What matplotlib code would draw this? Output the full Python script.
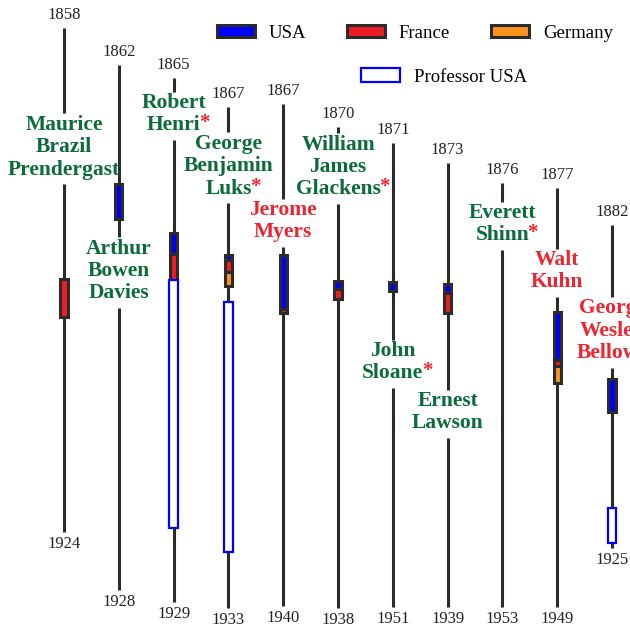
import matplotlib
matplotlib.use('Agg')
import matplotlib.pyplot as plt
from matplotlib.patches import Patch

plt.rcParams['font.family'] = ['Liberation Serif', 'DejaVu Serif']

# artists, left to right
names = ['Maurice\nBrazil\nPrendergast', 'Arthur\nBowen\nDavies', 'Robert\nHenri',
         'George\nBenjamin\nLuks', 'Jerome\nMyers', 'William\nJames\nGlackens',
         'John\nSloane', 'Ernest\nLawson', 'Everett\nShinn', 'Walt\nKuhn',
         'George\nWesley\nBellows']
starred = [False, False, True, True, False, True, True, False, True, False, False]
the_eight = [True, True, True, True, False, True, True, True, True, False, False]
born = [1858, 1862, 1865, 1867, 1867, 1870, 1871, 1873, 1876, 1877, 1882]
died = [1924, 1928, 1929, 1933, 1940, 1938, 1951, 1939, 1953, 1949, 1925]

# schematic life line (chart units, 0 = top), not drawn to scale
life_start = [28, 65, 78, 107, 104, 127, 143, 163, 183, 188, 225]
life_end = [532, 590, 602, 608, 606, 608, 607, 607, 607, 607, 548]
name_mid = [147, 271, 114, 166, 221, 167, 362, 412, 224, 271, 331]

# periods: (artist index, from, to)
usa = [(1, 184, 219), (2, 233, 254), (3, 255, 260), (4, 255, 309), (5, 281, 289),
       (6, 282, 291), (7, 284, 293), (9, 312, 360), (10, 379, 412)]
france = [(0, 279, 317), (2, 254, 280), (3, 260, 272), (4, 309, 313), (5, 289, 299),
          (7, 293, 313), (9, 360, 366)]
germany = [(3, 272, 286), (9, 366, 383)]
professor_usa = [(2, 280, 528), (3, 302, 552), (10, 508, 543)]

BLUE, RED, ORANGE = '#0000ff', '#ee1c25', '#f7931e'
DARK = '#2b2b2b'
GREEN, NAME_RED = '#0b6b3a', '#ee2430'

fig = plt.figure(figsize=(6.3, 6.28), dpi=100)
ax = fig.add_axes([0, 0, 1, 1])
ax.set_xlim(-64 / 54.8, (630 - 64) / 54.8)
ax.set_ylim(628, 0)
ax.axis('off')

line_h = 22.5
for i, name in enumerate(names):
    rows = name.split('\n')
    n = len(rows)
    gap_top = name_mid[i] - n * line_h / 2
    gap_bot = name_mid[i] + n * line_h / 2 + 3
    ax.vlines(i, life_start[i], gap_top, color=DARK, lw=2.2, zorder=1)
    ax.vlines(i, gap_bot, life_end[i], color=DARK, lw=2.2, zorder=1)

    col = GREEN if the_eight[i] else NAME_RED
    last = None
    for k, row in enumerate(rows):
        y = name_mid[i] + (k - (n - 1) / 2) * line_h
        last = ax.text(i, y, row, ha='center', va='center', fontsize=15.5,
                       fontweight='bold', color=col, zorder=4)
    if starred[i]:
        # red asterisk sits right after the last name line
        ax.annotate('*', xy=(1, 0.6), xycoords=last, xytext=(-1.2, 0),
                    textcoords='offset points', ha='left', va='center',
                    fontsize=15, fontweight='bold', color=NAME_RED)

    ax.text(i, life_start[i] - 13, str(born[i]), ha='center', va='center',
            fontsize=12, color='#222222')
    ax.text(i, life_end[i] + 12, str(died[i]), ha='center', va='center',
            fontsize=12, color='#222222')


def draw_periods(periods, color):
    for idx, a, b in periods:
        ax.bar(idx, b - a, bottom=a, width=0.13, color=color, edgecolor=DARK,
               linewidth=2.2, zorder=3)


draw_periods(usa, BLUE)
draw_periods(france, RED)
draw_periods(germany, ORANGE)
for idx, a, b in professor_usa:
    ax.bar(idx, b - a, bottom=a, width=0.15, facecolor='white', edgecolor=BLUE,
           linewidth=1.6, zorder=3)

handles = [Patch(facecolor=BLUE, edgecolor=DARK, linewidth=2.2, label='USA'),
           Patch(facecolor=RED, edgecolor=DARK, linewidth=2.2, label='France'),
           Patch(facecolor=ORANGE, edgecolor=DARK, linewidth=2.2, label='Germany')]
leg1 = ax.legend(handles=handles, ncol=3, loc='center left',
                 bbox_to_anchor=(217 / 630, 1 - 33 / 628), frameon=False,
                 fontsize=13.5, handlelength=2.0, handleheight=0.64,
                 handletextpad=0.75, columnspacing=2.2, borderpad=0,
                 borderaxespad=0)
ax.add_artist(leg1)
ax.legend(handles=[Patch(facecolor='white', edgecolor=BLUE, linewidth=1.6,
                         label='Professor USA')],
          loc='center left', bbox_to_anchor=(361 / 630, 1 - 77 / 628),
          frameon=False, fontsize=13.5, handlelength=2.1, handleheight=0.72,
          handletextpad=0.7, borderpad=0, borderaxespad=0)

fig.savefig('out.png', dpi=100)
